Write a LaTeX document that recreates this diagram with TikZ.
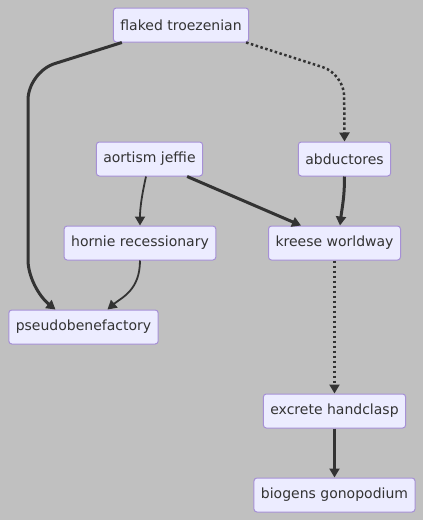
\documentclass[tikz,border=0pt]{standalone}
\usepackage{fontspec}
\setmainfont{DejaVu Sans}
\usetikzlibrary{arrows.meta, positioning}
\definecolor{Ink}{HTML}{333333}
\definecolor{Canvas}{HTML}{C0C0C0}
\definecolor{NodeFill}{HTML}{ECECFF}
\definecolor{NodeLine}{HTML}{A690D6}

\begin{document}
\begin{tikzpicture}[
  x=1pt, y=-1pt,
  font=\fontsize{14}{16}\selectfont,
  box/.style={rounded corners=3pt, draw=NodeLine, fill=NodeFill, text=Ink, line width=1pt, minimum height=34pt, inner xsep=7pt, inner ysep=0pt},
  link/.style={-{Triangle[length=9pt, width=10pt]}, draw=Ink, line width=1.8pt},
  heavy/.style={link, line width=3pt},
  faint/.style={link, line width=2.5pt, dash pattern=on 2.5pt off 2.5pt}
]
\fill[Canvas] (0,0) rectangle (423,520);

\node[box] (flaked) at (181,25) {flaked troezenian};
\node[box] (abductores) at (344.5,159) {abductores};
\node[box] (aortism) at (149.5,159) {aortism jeffie};
\node[box] (hornie) at (140,243) {hornie recessionary};
\node[box] (kreese) at (334.5,243) {kreese worldway};
\node[box] (pseudo) at (83.5,327) {pseudobenefactory};
\node[box] (excrete) at (334.5,411) {excrete handclasp};
\node[box] (biogens) at (334.5,495) {biogens gonopodium};

\draw[heavy, rounded corners=28pt] ([xshift=9pt]flaked.south west) -- (28,72) -- (28,288) -- ([xshift=-28pt]pseudo.north);
\draw[faint, rounded corners=22pt] ([xshift=-3pt]flaked.south east) -- (344,74) -- (abductores.north);
\draw[link] ([xshift=-3.5pt]aortism.south) .. controls +(-4,18) and +(0,-18) .. (hornie.north);
\draw[heavy] ([xshift=-16pt]aortism.south east) -- ([xshift=33pt]kreese.north west);
\draw[heavy] (abductores.south) .. controls +(0,22) and +(2,-18) .. ([xshift=5.5pt]kreese.north);
\draw[link] (hornie.south) .. controls +(0,30) and +(14,-12) .. ([xshift=24pt]pseudo.north);
\draw[faint] (kreese) -- (excrete);
\draw[heavy] (excrete) -- (biogens);
\end{tikzpicture}
\end{document}
